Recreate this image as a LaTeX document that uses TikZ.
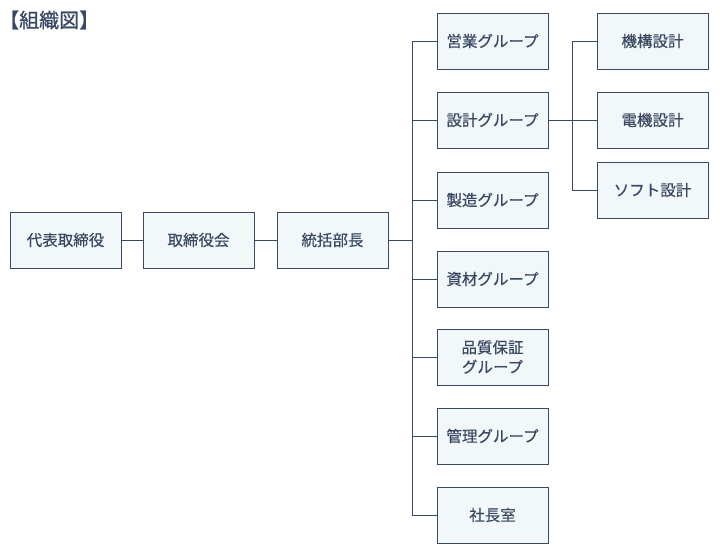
\documentclass[tikz,border=0pt]{standalone}
\usepackage{fontspec}
\setmainfont{Noto Sans CJK JP}
\newfontfamily\medfont{Noto Sans CJK JP}[FakeBold=0.5]
\newfontfamily\titlefont{Noto Sans CJK JP}[FakeBold=1.0]
\definecolor{navy}{HTML}{3A4963}
\definecolor{boxfill}{HTML}{F2F7FA}
\begin{document}
\begin{tikzpicture}[x=1pt,y=1pt,
  orgbox/.style={draw=navy,fill=boxfill,line width=1pt,minimum width=111pt,minimum height=56pt,inner sep=0pt,text=navy,font=\medfont\fontsize{15.5}{19.5}\selectfont,align=center},
  link/.style={draw=navy,line width=1pt}]
\useasboundingbox (0,0) rectangle (720,-555);
\node[anchor=west,text=navy,font=\titlefont\fontsize{20}{23}\selectfont,inner sep=0pt] (title) at (-1,-20) {【組織図】};
\node[orgbox] (ceo) at (65.5,-240) {代表取締役};
\node[orgbox] (board) at (198.5,-240) {取締役会};
\node[orgbox] (gm) at (332.5,-240) {統括部長};
\node[orgbox] (g1) at (492.5,-41) {営業グループ};
\node[orgbox] (g2) at (492.5,-120) {設計グループ};
\node[orgbox] (g3) at (492.5,-200) {製造グループ};
\node[orgbox] (g4) at (492.5,-279) {資材グループ};
\node[orgbox] (g5) at (492.5,-357) {品質保証\\グループ};
\node[orgbox] (g6) at (492.5,-436) {管理グループ};
\node[orgbox] (g7) at (492.5,-515) {社長室};
\node[orgbox] (s1) at (652.5,-41) {機構設計};
\node[orgbox] (s2) at (652.5,-120) {電機設計};
\node[orgbox] (s3) at (652.5,-190) {ソフト設計};
\coordinate (j) at (412,-240);
\coordinate (k) at (572,-120);
\draw[link] (ceo) -- (board);
\draw[link] (board) -- (gm);
\draw[link] (gm) -- (j);
\foreach \g in {g1,g2,g3,g4,g5,g6,g7} {\draw[link] (j) |- (\g.west);}
\draw[link] (g2) -- (k);
\draw[link] (k) -- (s2.west);
\draw[link] (k) |- (s1.west);
\draw[link] (k) |- (s3.west);
\end{tikzpicture}
\end{document}
